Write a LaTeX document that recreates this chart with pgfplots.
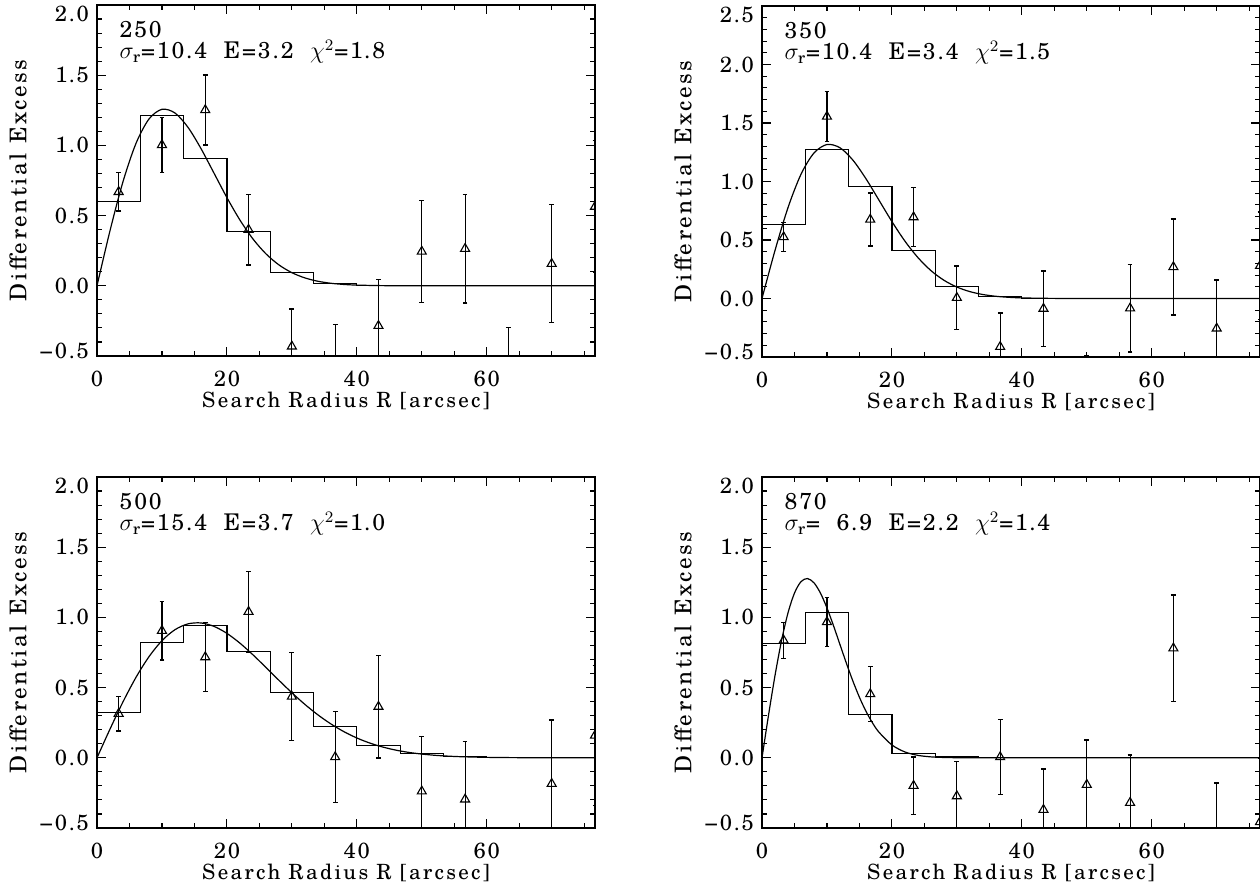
\documentclass[border=0pt]{standalone}
\usepackage{fontspec}
\setmainfont{TeX Gyre Schola}[LetterSpace=8]
\newfontfamily\labfont{TeX Gyre Schola}[LetterSpace=11]
\newfontfamily\tickfont{TeX Gyre Schola}[LetterSpace=8]
\usepackage{pgfplots}
\usepackage{pgfplotstable}
\pgfplotsset{compat=1.18}

\newcommand{\yl}[2]{\smash{\raisebox{#1}{#2}}}

\pgfplotstableread{
x y e
3.333 0.669 0.137
10.000 1.003 0.197
16.667 1.252 0.249
23.333 0.400 0.251
30.000 -0.432 0.268
36.667 -0.560 0.285
43.333 -0.285 0.328
50.000 0.244 0.363
56.667 0.264 0.388
63.333 -0.700 0.404
70.000 0.157 0.420
76.667 0.564 0.470
}\ptsA
\pgfplotstableread{
x y e
3.333 0.525 0.124
10.000 1.555 0.214
16.667 0.675 0.225
23.333 0.695 0.253
30.000 0.006 0.273
36.667 -0.413 0.290
43.333 -0.087 0.323
50.000 -0.840 0.350
56.667 -0.084 0.372
63.333 0.269 0.409
70.000 -0.256 0.413
76.667 0.279 0.460
}\ptsB
\pgfplotstableread{
x y e
3.333 0.314 0.124
10.000 0.905 0.209
16.667 0.717 0.245
23.333 1.040 0.289
30.000 0.436 0.313
36.667 0.005 0.325
43.333 0.364 0.366
50.000 -0.239 0.389
56.667 -0.296 0.410
70.000 -0.185 0.455
76.667 0.159 0.500
}\ptsC
\pgfplotstableread{
x y e
3.333 0.836 0.128
10.000 0.967 0.175
16.667 0.454 0.196
23.333 -0.199 0.204
30.000 -0.273 0.246
36.667 0.005 0.268
43.333 -0.370 0.291
50.000 -0.192 0.318
56.667 -0.320 0.341
63.333 0.780 0.379
70.000 -0.600 0.420
76.667 -0.457 0.450
}\ptsD

\pgfplotsset{
  panel/.style={
    scale only axis, width=249pt, height=175.5pt,
    xmin=0, xmax=76.667, ymin=-0.5,
    xtick={0,20,40,60}, xticklabels={0,20,40,60},
    minor xtick={5,10,15,25,30,35,45,50,55,65,70,75},
    minor ytick={-0.4,-0.3,-0.2,-0.1,0.1,0.2,0.3,0.4,0.6,0.7,0.8,0.9,1.1,1.2,1.3,1.4,1.6,1.7,1.8,1.9,2.1,2.2,2.3,2.4},
    xtick pos=both, ytick pos=both,
    xticklabel pos=lower, yticklabel pos=left,
    tick align=inside,
    major tick length=4.5pt, minor tick length=2.5pt,
    every tick/.style={black, line width=0.55pt},
    axis line style={black, line width=0.7pt},
    ticklabel style={font=\tickfont\fontsize{11}{13}\selectfont},
    xticklabel style={anchor=base, yshift=-15.5pt},
    yticklabel style={anchor=east, xshift=-0.5pt},
    xlabel={Search Radius R [arcsec]},
    ylabel={Differential Excess},
    label style={font=\labfont\fontsize{10.5}{12}\selectfont},
    xlabel style={at={(axis description cs:0.5,-0.148)}, anchor=base},
    ylabel style={at={(axis description cs:-0.1586,0.5)}, anchor=center, font=\labfont\fontsize{11.5}{13}\selectfont},
    clip marker paths=true,
  },
  pts/.style={only marks, mark=triangle, mark size=2.6pt, black,
    mark options={line width=0.55pt, fill=none},
    error bars/.cd, y dir=both, y explicit,
    error bar style={line width=0.55pt},
    error mark options={rotate=90, mark size=1.2pt, line width=0.7pt}},
  hist/.style={const plot, black, line width=0.6pt, no marks},
  fit/.style={smooth, black, line width=0.6pt, no marks},
}

\newcommand{\ann}[2]{%
  \node[anchor=base west, font=\fontsize{11.5}{13}\selectfont, inner sep=0pt] at (axis description cs:0.0448,0.9088) {#1};
  \node[anchor=base west, font=\fontsize{11.5}{13}\selectfont, inner sep=0pt] at (axis description cs:0.0448,0.8462) {#2};}

\begin{document}
\begin{tikzpicture}
% ---------- 250 ----------
\begin{axis}[panel, at={(0pt,0pt)}, anchor=south west, ymax=2.0,
  ytick={-0.5,0,0.5,1,1.5,2},
  yticklabels={\yl{-1.2pt}{−0.5},\yl{-3.8pt}{0.0},\yl{-3.8pt}{0.5},\yl{-3.8pt}{1.0},\yl{-3.8pt}{1.5},\yl{-8.3pt}{2.0}}]
\addplot[hist] coordinates {(0,0.602)(6.667,1.212)(13.333,0.908)(20,0.387)(26.667,0.097)(33.333,0.014)(40,0.003)(46.667,0.0005)(53.333,0)(76.667,0)};
\addplot[fit] coordinates {(0,0)(2,0.3919)(4,0.7414)(6,1.0139)(8,1.1878)(10,1.2571)(12,1.2309)(14,1.1292)(16,0.9780)(18,0.8035)(20,0.6282)(22,0.4686)(24,0.3342)(26,0.2280)(28,0.1491)(30,0.0935)(32,0.0562)(34,0.0324)(36,0.0180)(38,0.0096)(40,0.0049)(44,0.0011)(50,0)(60,0)(70,0)(76.667,0)};
\addplot[pts] table[x=x, y=y, y error=e] {\ptsA};
\ann{250}{$\sigma_{\mathrm{r}}$=10.4\ \ E=3.2\ \ $\chi^{2}$=1.8}
\end{axis}
% ---------- 350 ----------
\begin{axis}[panel, at={(332.5pt,-0.5pt)}, anchor=south west, ymax=2.5,
  ytick={-0.5,0,0.5,1,1.5,2,2.5},
  yticklabels={\yl{-1.2pt}{−0.5},\yl{-3.8pt}{0.0},\yl{-3.8pt}{0.5},\yl{-3.8pt}{1.0},\yl{-3.8pt}{1.5},\yl{-3.8pt}{2.0},\yl{-8.3pt}{2.5}}]
\addplot[hist] coordinates {(0,0.629)(6.667,1.273)(13.333,0.960)(20,0.407)(26.667,0.105)(33.333,0.016)(40,0.003)(46.667,0.0005)(53.333,0)(76.667,0)};
\addplot[fit] coordinates {(0,0)(2,0.4103)(4,0.7762)(6,1.0614)(8,1.2435)(10,1.3160)(12,1.2886)(14,1.1821)(16,1.0239)(18,0.8412)(20,0.6577)(22,0.4906)(24,0.3499)(26,0.2387)(28,0.1561)(30,0.0979)(32,0.0588)(34,0.0339)(36,0.0188)(38,0.0101)(40,0.0051)(44,0.0012)(50,0)(60,0)(70,0)(76.667,0)};
\addplot[pts] table[x=x, y=y, y error=e] {\ptsB};
\ann{350}{$\sigma_{\mathrm{r}}$=10.4\ \ E=3.4\ \ $\chi^{2}$=1.5}
\end{axis}
% ---------- 500 ----------
\begin{axis}[panel, at={(0pt,-236pt)}, anchor=south west, ymax=2.0,
  ytick={-0.5,0,0.5,1,1.5,2},
  yticklabels={\yl{-1.2pt}{−0.5},\yl{-3.8pt}{0.0},\yl{-3.8pt}{0.5},\yl{-3.8pt}{1.0},\yl{-3.8pt}{1.5},\yl{-8.3pt}{2.0}}]
\addplot[hist] coordinates {(0,0.325)(6.667,0.820)(13.333,0.945)(20,0.758)(26.667,0.464)(33.333,0.225)(40,0.088)(46.667,0.028)(53.333,0.009)(60,0.002)(66.667,0.0003)(73.333,0)(76.667,0)};
\addplot[fit] coordinates {(0,0)(2,0.2042)(4,0.3983)(6,0.5728)(8,0.7199)(10,0.8341)(12,0.9123)(14,0.9538)(16,0.9605)(18,0.9363)(20,0.8863)(22,0.8167)(24,0.7339)(26,0.6439)(28,0.5522)(30,0.4634)(32,0.3805)(34,0.3061)(36,0.2413)(38,0.1864)(40,0.1412)(42,0.1049)(44,0.0765)(46,0.0547)(48,0.0384)(50,0.0265)(52,0.0179)(54,0.0119)(56,0.0078)(60,0.0031)(64,0.0012)(70,0.0002)(76.667,0)};
\addplot[pts] table[x=x, y=y, y error=e] {\ptsC};
\ann{500}{$\sigma_{\mathrm{r}}$=15.4\ \ E=3.7\ \ $\chi^{2}$=1.0}
\end{axis}
% ---------- 870 ----------
\begin{axis}[panel, at={(332.5pt,-236pt)}, anchor=south west, ymax=2.0,
  ytick={-0.5,0,0.5,1,1.5,2},
  yticklabels={\yl{-1.2pt}{−0.5},\yl{-3.8pt}{0.0},\yl{-3.8pt}{0.5},\yl{-3.8pt}{1.0},\yl{-3.8pt}{1.5},\yl{-8.3pt}{2.0}}]
\addplot[hist] coordinates {(0,0.815)(6.667,1.036)(13.333,0.310)(20,0.033)(26.667,0.005)(33.333,0.0005)(40,0)(76.667,0)};
\addplot[fit] coordinates {(0,0)(1,0.3019)(2,0.5852)(3,0.8328)(4,1.0317)(5,1.1734)(6,1.2545)(7,1.2767)(8,1.2464)(9,1.1730)(10,1.0675)(11,0.9419)(12,0.8070)(13,0.6724)(14,0.5454)(15,0.4309)(16,0.3318)(17,0.2494)(18,0.1828)(20,0.0914)(22,0.0416)(24,0.0173)(26,0.0066)(28,0.0023)(30,0.0007)(34,0)(40,0)(50,0)(60,0)(70,0)(76.667,0)};
\addplot[pts] table[x=x, y=y, y error=e] {\ptsD};
\ann{870}{$\sigma_{\mathrm{r}}$=\ \ 6.9\ \ E=2.2\ \ $\chi^{2}$=1.4}
\end{axis}
\pgfresetboundingbox
\path[use as bounding box] (-48.5pt,-268pt) rectangle (581.5pt,178pt);
\end{tikzpicture}
\end{document}
